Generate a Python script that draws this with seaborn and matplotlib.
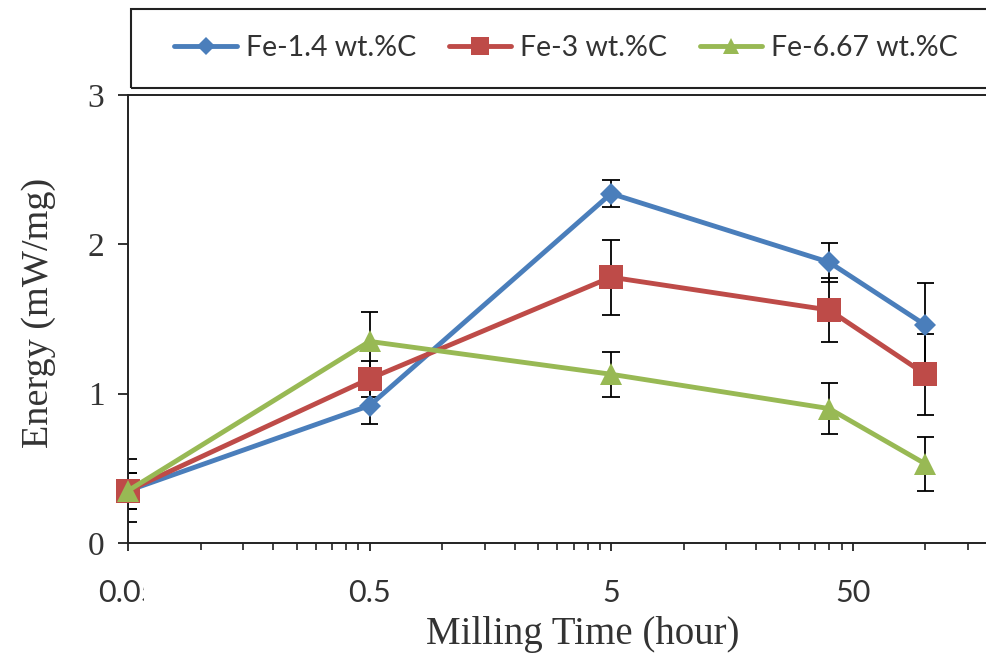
import numpy as np
import pandas as pd
import matplotlib
matplotlib.use("Agg")
import matplotlib.pyplot as plt
from matplotlib.patches import Rectangle
from matplotlib.ticker import FixedLocator, FixedFormatter, NullFormatter
from matplotlib.transforms import Bbox, TransformedBbox
import seaborn as sns

# Milling time (hours); the unmilled powder is placed at 0.05 h on the log axis
milling_time = [0.05, 0.5, 5, 40, 100]

series_names = ["Fe-1.4 wt.%C", "Fe-3 wt.%C", "Fe-6.67 wt.%C"]
energy_fe14 = [0.35, 0.92, 2.34, 1.88, 1.46]
energy_fe3 = [0.35, 1.10, 1.78, 1.56, 1.13]
energy_fe667 = [0.35, 1.35, 1.13, 0.90, 0.53]

err_fe14 = [0.12, 0.12, 0.09, 0.13, 0.28]
err_fe3 = [0.21, 0.12, 0.25, 0.215, 0.27]
err_fe667 = [0.12, 0.20, 0.15, 0.17, 0.18]

x_tick_values = [0.05, 0.5, 5, 50]
x_tick_labels = ["0.05", "0.5", "5", "50"]
y_tick_values = [0, 1, 2, 3]

colors = ["#4A7EBB", "#BE4B48", "#98B954"]
markers = ["D", "s", "^"]
marker_sizes = [11, 17, 16]
legend_marker_sizes = [9.5, 13, 12]

energies = [energy_fe14, energy_fe3, energy_fe667]
errors = [err_fe14, err_fe3, err_fe667]

df = pd.DataFrame({
    "time": milling_time * 3,
    "energy": energy_fe14 + energy_fe3 + energy_fe667,
    "alloy": sum([[n] * len(milling_time) for n in series_names], []),
})

sns.set_theme(style="white")
plt.rcParams["font.family"] = ["Lato", "DejaVu Sans"]

W, H = 986, 659
fig = plt.figure(figsize=(W / 100, H / 100), dpi=100)
ax = fig.add_axes([128 / W, (H - 543) / H, 870 / W, 448 / H])

# error bars first so markers sit on top of them; caps drawn as short
# segments (a fixed ratio on the log axis) so they clip at the y axis
cap_ratio = 1.085
t = np.array(milling_time)
for vals, errs in zip(energies, errors):
    v, e = np.array(vals), np.array(errs)
    ax.errorbar(t, v, yerr=e, fmt="none", ecolor="black",
                elinewidth=1.3, capsize=0, zorder=2)
    ax.hlines(np.concatenate([v - e, v + e]),
              np.concatenate([t, t]) / cap_ratio,
              np.concatenate([t, t]) * cap_ratio,
              colors="black", linewidth=1.3, zorder=2)

sns.lineplot(data=df, x="time", y="energy", hue="alloy", style="alloy",
             palette=dict(zip(series_names, colors)),
             markers=dict(zip(series_names, markers)), dashes=False,
             linewidth=3.5, markeredgewidth=0, errorbar=None, ax=ax,
             legend=False, zorder=3)

for line, ms in zip(ax.lines[-3:], marker_sizes):
    line.set_markersize(ms)
    line.set_clip_on(False)

ax.set_xscale("log")
ax.set_xlim(0.05, 200)
ax.set_ylim(0, 3)

ax.xaxis.set_major_locator(FixedLocator(x_tick_values))
ax.xaxis.set_major_formatter(FixedFormatter(x_tick_labels))
minor = [b * k for b in [0.05, 0.5, 5, 50] for k in range(2, 10) if b * k < 200]
ax.xaxis.set_minor_locator(FixedLocator(minor))
ax.xaxis.set_minor_formatter(NullFormatter())
ax.set_yticks(y_tick_values)

for side in ["left", "bottom", "top"]:
    ax.spines[side].set_visible(True)
    ax.spines[side].set_color("#222222")
    ax.spines[side].set_linewidth(1.4)
ax.spines["right"].set_visible(False)

ax.tick_params(axis="x", which="major", direction="out", length=6, width=1.3,
               color="#222222", bottom=True, pad=20, labelsize=22,
               labelcolor="#333333")
ax.tick_params(axis="x", which="minor", direction="out", length=5, width=1.2,
               color="#222222", bottom=True)
ax.tick_params(axis="y", which="major", direction="out", length=7, width=1.3,
               color="#222222", left=True, pad=10, labelsize=24,
               labelcolor="#333333")
for lab in ax.get_yticklabels():
    lab.set_fontfamily("Liberation Serif")

ax.set_xlabel("Milling Time (hour)", fontsize=28, family="Liberation Serif",
              color="#333333")
ax.set_ylabel("Energy (mW/mg)", fontsize=27.5, family="Liberation Serif",
              color="#333333")
ax.xaxis.set_label_coords(0.523, -0.163)
ax.yaxis.set_label_coords(-0.083, 0.513)

# the leftmost tick label is cut at the edge of the category area
first = ax.xaxis.get_majorticklabels()[0]
first.set_clip_box(TransformedBbox(Bbox([[0, 0], [144 / W, 1]]), fig.transFigure))
first.set_clip_on(True)

# legend band across the top
fig.patches.append(Rectangle((131 / W, (H - 88) / H), 900 / W, 79 / H,
                             transform=fig.transFigure, fill=False,
                             edgecolor="#222222", linewidth=1.5))
handles = [plt.Line2D([], [], color=c, marker=m, markersize=s,
                      linewidth=3.5, markeredgewidth=0)
           for c, m, s in zip(colors, markers, legend_marker_sizes)]
fig.legend(handles, series_names, loc="center", ncol=3, frameon=False,
           bbox_to_anchor=(566 / W, 1 - 48 / H), fontsize=20.5,
           handlelength=2.2, handletextpad=0.3, columnspacing=1.15,
           labelcolor="#333333")

fig.savefig("out.png", dpi=100, facecolor="white")
